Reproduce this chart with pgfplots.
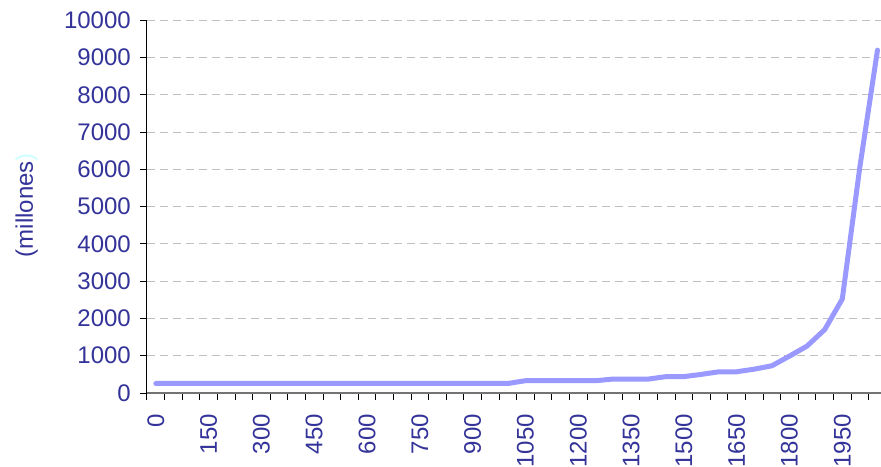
\documentclass[border=0pt]{standalone}
\usepackage{fontspec}
\setmainfont{Liberation Sans}
\usepackage{pgfplots}
\pgfplotsset{compat=1.18}
\definecolor{txtblue}{HTML}{333399}
\definecolor{linecol}{HTML}{9999FF}
\definecolor{gridcol}{HTML}{C0C0C0}
\definecolor{paren}{HTML}{CCFFFF}
\begin{document}
\begin{tikzpicture}
\useasboundingbox (-147bp,-74bp) rectangle (734bp,393bp);
\begin{axis}[
  at={(0,0)}, anchor=south west,
  scale only axis, width=734bp, height=372.7bp,
  xmin=-25, xmax=2060, ymin=0, ymax=10000,
  axis x line=bottom, axis y line=left, axis line style={-},
  x axis line style={black!55, line width=1.2bp},
  y axis line style={black, line width=1bp},
  tick align=outside, major tick length=7bp,
  tick style={black, line width=1bp},
  scaled y ticks=false, scaled x ticks=false,
  /pgf/number format/1000 sep={},
  /pgf/number format/assume math mode=true,
  tick label style={font=\fontsize{24bp}{28bp}\selectfont, text=txtblue},
  xtick={-25,25,...,2025}, xticklabels={},
  extra x ticks={0,150,...,1950},
  extra x tick style={major tick length=0pt,
     tick label style={yshift=-21bp, rotate=90, anchor=east, inner sep=0pt}},
  ytick={0,1000,...,10000},
  yticklabel style={anchor=east, inner sep=0pt},
  yticklabel shift=9bp,
  ymajorgrids,
  major grid style={gridcol, line width=1bp, dash pattern=on 8bp off 5bp},
  ylabel={(millones\textcolor{paren}{)}},
  ylabel style={at={(axis description cs:-0.1639,0.504)}, anchor=center,
     font=\fontsize{24bp}{28bp}\selectfont, text=txtblue, inner sep=0pt},
]
\addplot[linecol, line width=5bp, line join=round, line cap=round] coordinates {
(0,255)(50,255)(100,255)(150,255)(200,255)(250,255)(300,255)(350,255)
(400,255)(450,255)(500,255)(550,255)(600,255)(650,255)(700,255)(750,255)
(800,255)(850,255)(900,255)(950,255)(1000,255)
(1050,330)(1100,330)(1150,330)(1200,330)(1250,330)
(1300,375)(1350,375)(1400,375)
(1450,440)(1500,440)
(1550,500)
(1600,570)(1650,570)
(1700,640)(1750,730)(1800,990)(1850,1260)(1900,1700)
(1950,2520)(2000,6070)(2050,9200)
};
\end{axis}
\end{tikzpicture}
\end{document}
